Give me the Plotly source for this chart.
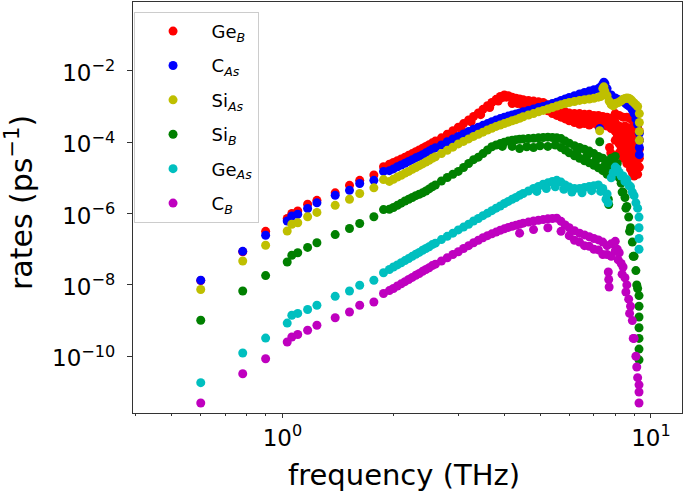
import plotly.graph_objects as go

# ---------------- data ----------------
# phonon frequencies (THz) shared by all six defect series
frequency_thz = [
    0.60, 0.78, 0.90, 1.03, 1.06, 1.10, 1.17, 1.24, 1.39, 1.52, 1.62, 1.77, 1.88,
    1.95, 2.0, 2.05, 2.1, 2.15, 2.2, 2.25, 2.3, 2.35, 2.4,
    2.45, 2.5, 2.55, 2.6, 2.7, 2.8, 2.9, 3.0, 3.1, 3.2,
    3.3, 3.4, 3.5, 3.6, 3.7, 3.8, 3.9, 4.0, 4.1, 4.2,
    4.3, 4.4, 4.5, 4.65, 4.8, 4.95, 5.1, 5.25, 5.4, 5.55,
    5.7, 5.85, 6.0, 6.2, 6.4, 6.6, 6.8, 7.0, 7.2, 7.4,
    7.6, 7.8, 8.0, 8.2, 8.4, 8.6, 8.8, 9.0, 9.2,
]

# log10 of the scattering rate (ps^-1) at each frequency above
ge_b_log10 = [
    -7.88, -7.07, -6.50, -6.14, -6.00, -5.93, -5.74, -5.63, -5.42, -5.21, -5.07, -4.92, -4.69,
    -4.62, -4.57, -4.52, -4.47, -4.42, -4.37, -4.32, -4.27, -4.22, -4.17,
    -4.12, -4.07, -4.02, -3.97, -3.88, -3.78, -3.68, -3.58, -3.48, -3.38,
    -3.28, -3.18, -3.08, -2.98, -2.89, -2.80, -2.72, -2.68, -2.70, -2.74,
    -2.77, -2.79, -2.81, -2.83, -2.85, -2.87, -2.89, -2.95, -3.00, -3.10,
    -3.15, -3.15, -3.18, -3.20, -3.20, -3.22, -3.22, -3.25, -3.25, -3.28,
    -3.30, -3.35, -3.45, -3.55, -3.70, -3.85, -4.00, -4.20, -4.40,
]
c_as_log10 = [
    -7.87, -7.06, -6.61, -6.21, -6.07, -6.02, -5.86, -5.70, -5.49, -5.35, -5.16, -5.07, -4.82,
    -4.80, -4.75, -4.69, -4.64, -4.59, -4.54, -4.49, -4.44, -4.40, -4.35,
    -4.30, -4.25, -4.20, -4.16, -4.08, -3.99, -3.91, -3.84, -3.77, -3.70,
    -3.64, -3.58, -3.53, -3.48, -3.43, -3.38, -3.34, -3.30, -3.27, -3.24,
    -3.21, -3.18, -3.15, -3.11, -3.07, -3.03, -3.00, -2.96, -2.92, -2.88,
    -2.83, -2.79, -2.75, -2.70, -2.65, -2.61, -2.57, -2.53, -2.50, -2.38,
    -2.50, -2.68, -2.76, -2.82, -2.87, -2.95, -3.02, -3.20, -3.50,
]
si_as_log10 = [
    -8.13, -7.33, -6.89, -6.49, -6.30, -6.26, -6.09, -5.97, -5.77, -5.60, -5.44, -5.28, -5.05,
    -5.10, -5.04, -4.98, -4.93, -4.87, -4.82, -4.76, -4.71, -4.66, -4.61,
    -4.56, -4.51, -4.45, -4.41, -4.32, -4.23, -4.14, -4.05, -3.98, -3.91,
    -3.84, -3.78, -3.72, -3.66, -3.61, -3.56, -3.52, -3.48, -3.44, -3.40,
    -3.37, -3.33, -3.29, -3.24, -3.20, -3.15, -3.11, -3.07, -3.03, -2.99,
    -2.95, -2.92, -2.89, -2.86, -2.83, -2.81, -2.79, -2.77, -2.74, -2.50,
    -2.70, -2.95, -2.92, -2.88, -2.80, -2.76, -2.80, -2.90, -3.00,
]
si_b_log10 = [
    -8.99, -8.17, -7.74, -7.36, -7.17, -7.10, -6.95, -6.82, -6.59, -6.42, -6.28, -6.09, -5.89,
    -5.88, -5.83, -5.77, -5.71, -5.65, -5.60, -5.55, -5.50, -5.46, -5.42,
    -5.37, -5.31, -5.25, -5.20, -5.09, -4.99, -4.90, -4.82, -4.71, -4.60,
    -4.49, -4.42, -4.32, -4.22, -4.13, -4.08, -4.04, -4.00, -3.97, -3.95,
    -3.93, -3.92, -3.91, -3.90, -3.89, -3.88, -3.87, -3.86, -3.87, -3.88,
    -3.90, -3.97, -4.03, -4.10, -4.15, -4.20, -4.25, -4.32, -4.40, -4.45,
    -4.55, -4.45, -4.40, -5.00, -5.40, -5.80, -6.40, -7.20, -8.10,
]
ge_as_log10 = [
    -10.74, -9.91, -9.49, -9.07, -8.85, -8.80, -8.69, -8.57, -8.32, -8.17, -8.01, -7.87, -7.66,
    -7.57, -7.50, -7.44, -7.38, -7.32, -7.26, -7.20, -7.14, -7.09, -7.03,
    -6.98, -6.93, -6.87, -6.83, -6.73, -6.64, -6.55, -6.46, -6.38, -6.30,
    -6.21, -6.14, -6.06, -5.99, -5.92, -5.85, -5.79, -5.72, -5.66, -5.60,
    -5.55, -5.49, -5.44, -5.37, -5.30, -5.24, -5.18, -5.14, -5.10, -5.07,
    -5.12, -5.20, -5.26, -5.30, -5.30, -5.27, -5.24, -5.22, -5.20, -5.30,
    -5.45, -5.00, -4.70, -4.85, -4.95, -5.05, -5.25, -5.50, -5.85,
]
c_b_log10 = [
    -11.31, -10.49, -10.07, -9.60, -9.46, -9.39, -9.27, -9.13, -8.92, -8.76, -8.57, -8.48, -8.24,
    -8.16, -8.10, -8.03, -7.97, -7.91, -7.85, -7.79, -7.73, -7.68, -7.62,
    -7.57, -7.52, -7.46, -7.42, -7.33, -7.24, -7.15, -7.07, -6.98, -6.90,
    -6.82, -6.75, -6.68, -6.62, -6.57, -6.52, -6.47, -6.43, -6.39, -6.36,
    -6.33, -6.30, -6.27, -6.24, -6.21, -6.19, -6.17, -6.15, -6.14, -6.13,
    -6.22, -6.32, -6.40, -6.48, -6.55, -6.60, -6.65, -6.70, -6.74, -6.80,
    -6.90, -6.85, -6.78, -7.10, -7.50, -8.00, -8.60, -9.50, -10.60,
]

# additional scattered modes (frequency THz, log10 rate) that widen each band
ge_b_extra = [
    (2.65, -4.02), (2.85, -3.83), (3.05, -3.63), (3.25, -3.43), (3.45, -3.23), (3.65, -3.03),
    (3.85, -2.85), (3.95, -2.75), (4.05, -2.74), (4.2, -2.92), (4.35, -2.92), (4.5, -2.98),
    (4.65, -2.98), (4.8, -3.02), (4.95, -3.05), (5.1, -3.08), (5.25, -3.12), (5.4, -3.2),
    (5.55, -3.25), (5.7, -3.3), (5.85, -3.35), (6.0, -3.4), (6.2, -3.45), (6.4, -3.5),
    (6.6, -3.48), (6.8, -3.52), (7.0, -3.47), (7.2, -3.55), (7.4, -3.5), (7.6, -3.55),
    (7.8, -3.62), (6.0, -3.28), (6.2, -3.32), (6.4, -3.35), (6.6, -3.33), (6.8, -3.36),
    (7.0, -3.35), (7.2, -3.38), (7.4, -3.4), (7.6, -3.42), (7.8, -3.48), (7.9, -3.3),
    (8.0, -3.2), (8.1, -3.55), (8.2, -3.25), (8.3, -3.6), (8.4, -3.3), (8.5, -3.55),
    (8.6, -3.3), (8.7, -3.6), (8.8, -3.35), (8.0, -3.7), (8.0, -3.95), (8.1, -3.85),
    (8.2, -3.8), (8.2, -4.05), (8.2, -4.3), (8.3, -4.15), (8.4, -3.95), (8.4, -4.2),
    (8.4, -4.45), (8.5, -4.3), (8.6, -4.1), (8.6, -4.35), (8.6, -4.6), (8.7, -4.0),
    (8.7, -4.5), (8.8, -3.7), (8.8, -4.25), (8.8, -4.5), (8.8, -4.75), (8.9, -3.9),
    (8.9, -4.4), (8.9, -4.85), (9.0, -3.5), (9.0, -3.75), (9.0, -4.45), (9.0, -4.7),
    (9.0, -4.95), (9.1, -4.0), (9.1, -4.55), (9.1, -4.9), (9.2, -3.6), (9.2, -3.85),
    (9.2, -4.1), (9.2, -4.65), (9.2, -4.9), (9.3, -3.7), (9.3, -3.95), (9.3, -4.2),
    (9.3, -4.45), (9.3, -4.7), (7.72, -4.15), (7.78, -4.3),
]
c_as_extra = [
    (7.3, -2.45), (7.45, -2.32), (7.5, -2.36), (7.26, -3.62), (8.1, -2.8), (8.3, -2.85),
    (8.5, -2.9), (8.7, -2.98), (8.9, -3.1), (9.1, -3.35),
    (9.3, -3.75), (9.3, -3.95), (9.3, -4.15), (9.3, -4.35),
]
si_as_extra = [
    (7.3, -2.72), (7.45, -2.45), (7.5, -2.58), (7.26, -3.68), (7.7, -2.85), (7.9, -2.98),
    (8.1, -2.9), (8.3, -2.84), (8.5, -2.78), (8.7, -2.77), (8.9, -2.85), (9.1, -2.95),
    (9.3, -3.2), (9.3, -3.45), (9.3, -3.7), (9.3, -3.95),
]
si_b_extra = [
    (3.95, -4.12), (4.2, -4.12), (4.4, -4.18), (4.6, -4.13), (4.8, -4.15), (5.0, -4.1),
    (5.25, -4.12), (5.5, -4.08), (5.7, -4.15), (5.85, -4.22), (6.0, -4.3), (6.2, -4.38),
    (6.4, -4.45), (6.6, -4.52), (6.8, -4.58), (7.0, -4.65), (7.2, -4.72), (7.4, -4.8),
    (7.6, -4.9), (7.8, -4.75), (8.0, -4.7), (6.3, -4.28), (6.7, -4.38), (7.1, -4.5),
    (7.5, -4.65), (7.9, -4.55), (8.1, -4.6), (8.15, -4.85), (8.3, -5.15), (8.35, -5.4),
    (8.5, -5.55), (8.55, -5.85), (8.7, -6.1), (8.75, -6.5), (8.9, -6.8), (8.95, -7.2),
    (9.1, -7.6), (9.15, -8.0), (9.28, -8.3), (9.28, -8.6), (9.28, -8.9), (9.28, -9.2),
    (9.28, -9.5), (9.28, -9.8), (9.28, -10.1), (7.26, -3.99), (7.66, -5.6), (7.68, -5.75),
]
ge_as_extra = [
    (4.9, -5.38), (5.2, -5.3), (5.5, -5.25), (5.8, -5.32), (6.1, -5.4), (6.5, -5.42),
    (6.9, -5.36), (7.3, -5.38), (7.9, -4.85), (8.1, -4.75), (8.3, -4.95), (8.5, -5.1),
    (8.7, -5.2), (8.9, -5.4), (9.1, -5.7), (9.28, -6.1), (9.28, -6.4), (9.28, -6.7),
    (9.28, -7.0), (7.55, -5.6), (7.65, -5.7),
]
c_b_extra = [
    (4.4, -6.55), (4.8, -6.45), (5.25, -6.4), (5.7, -6.5), (6.0, -6.62), (6.2, -6.75),
    (6.4, -6.8), (6.6, -6.9), (6.8, -6.92), (7.0, -7.0), (7.2, -7.02), (7.4, -7.15),
    (7.6, -7.15), (7.8, -7.2), (8.0, -7.05), (8.1, -7.0), (8.15, -7.3), (8.3, -7.4),
    (8.35, -7.7), (8.5, -7.8), (8.55, -8.2), (8.7, -8.4), (8.75, -8.8), (8.9, -9.0),
    (8.95, -9.5), (9.1, -10.0), (9.15, -10.3), (9.28, -10.8), (9.28, -11.0),
    (9.28, -11.31), (7.66, -7.64), (7.7, -8.06), (7.68, -7.85),
]

series_names = ["Ge<sub><i>B</i></sub>", "C<sub><i>As</i></sub>", "Si<sub><i>As</i></sub>",
                "Si<sub><i>B</i></sub>", "Ge<sub><i>As</i></sub>", "C<sub><i>B</i></sub>"]
series_colors = ["#ff0000", "#0000ff", "#bfbf00", "#008000", "#00bfbf", "#bf00bf"]
series_main = [ge_b_log10, c_as_log10, si_as_log10, si_b_log10, ge_as_log10, c_b_log10]
series_extra = [ge_b_extra, c_as_extra, si_as_extra, si_b_extra, ge_as_extra, c_b_extra]

x_major_ticks = [1, 10]
x_major_labels = ["10<sup>0</sup>", "10<sup>1</sup>"]
x_minor_ticks = [0.4, 0.5, 0.6, 0.7, 0.8, 0.9, 2, 3, 4, 5, 6, 7, 8, 9]
y_ticks = [1e-2, 1e-4, 1e-6, 1e-8, 1e-10]
y_labels = ["10<sup>\u22122</sup>", "10<sup>\u22124</sup>", "10<sup>\u22126</sup>",
            "10<sup>\u22128</sup>", "10<sup>\u221210</sup>"]
x_title = "frequency (THz)"
y_title = "rates (ps<sup>\u22121</sup>)"

# ---------------- figure ----------------
fig = go.Figure()
for name, color, main, extra in zip(series_names, series_colors, series_main, series_extra):
    xs = list(frequency_thz) + [p[0] for p in extra]
    ys = [10 ** v for v in list(main) + [p[1] for p in extra]]
    fig.add_trace(go.Scatter(
        x=xs, y=ys, mode="markers", name=name,
        marker=dict(color=color, size=9, line=dict(width=0)),
        legendgroup=name,
    ))

FONT = "DejaVu Sans, Verdana, sans-serif"
AX = "#333333"
fig.update_layout(
    width=685, height=491,
    margin=dict(l=133, r=3, t=2, b=78),
    paper_bgcolor="white", plot_bgcolor="white",
    font=dict(family=FONT, size=18, color="black"),
    showlegend=True,
    legend=dict(
        x=0.001, y=0.976, xanchor="left", yanchor="top",
        bgcolor="rgba(255,255,255,0.8)", bordercolor="#cccccc", borderwidth=1,
        font=dict(family=FONT, size=18, color="black"),
        tracegroupgap=8, itemwidth=67,
    ),
    xaxis=dict(
        type="log", range=[-0.4057, 1.0842],
        showline=True, mirror=True, linecolor=AX, linewidth=1.3,
        showgrid=False, zeroline=False,
        ticks="outside", ticklen=4, tickwidth=1, tickcolor=AX,
        tickmode="array", tickvals=x_major_ticks, ticktext=x_major_labels,
        tickfont=dict(size=23),
        minor=dict(tickmode="array", tickvals=x_minor_ticks, ticks="outside",
                   ticklen=2, tickwidth=1, tickcolor=AX, showgrid=False),
    ),
    yaxis=dict(
        type="log", range=[-11.59, -0.073],
        showline=True, mirror=True, linecolor=AX, linewidth=1.3,
        showgrid=False, zeroline=False,
        ticks="outside", ticklen=5, tickwidth=1, tickcolor=AX,
        tickmode="array", tickvals=y_ticks, ticktext=y_labels,
        ticklabelstandoff=7, ticklabelshift=2,
        tickfont=dict(size=23),
    ),
    annotations=[
        dict(text=x_title, xref="paper", yref="paper", x=0.4936, y=-0.1509,
             xanchor="center", yanchor="middle", showarrow=False,
             font=dict(family=FONT, size=29, color="black")),
        dict(text=y_title, xref="paper", yref="paper", x=-0.2058, y=0.511,
             xanchor="center", yanchor="middle", showarrow=False, textangle=-90,
             font=dict(family=FONT, size=30, color="black")),
    ],
)

# remove the browser's default 8px page margin so the figure sits at the window origin
fig.write_html("out.html", config={"displayModeBar": False},
               post_script="document.body.style.margin='0px';")
